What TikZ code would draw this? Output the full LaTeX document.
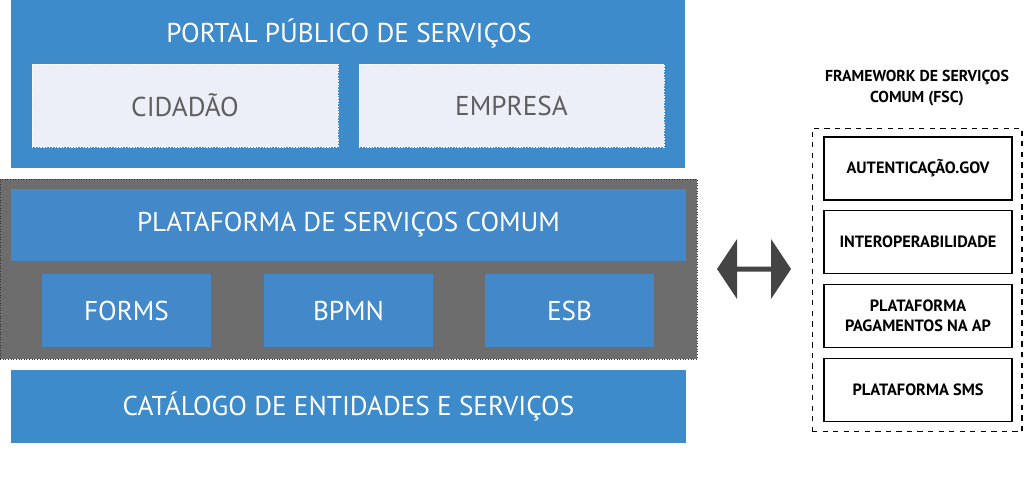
\documentclass[tikz,border=0pt]{standalone}
\usepackage{fontspec}
\setmainfont{PT Sans}
\usetikzlibrary{positioning}

\definecolor{portalblue}{HTML}{3D8BCB}
\definecolor{coreblue}{HTML}{4388C8}
\definecolor{coregray}{HTML}{6D6D6D}
\definecolor{paleface}{HTML}{ECEFF7}
\definecolor{palefont}{HTML}{5F5F5F}
\definecolor{arrowgray}{HTML}{444444}

\tikzset{
  bigfont/.style={font=\fontsize{15.5}{18}\selectfont},
  bluebar/.style={fill=portalblue, inner sep=0pt, text=white, bigfont},
  corebox/.style={fill=coreblue, inner sep=0pt, text=white, bigfont},
  palebox/.style={fill=paleface, draw=white, dash pattern=on 0.8pt off 0.8pt,
    line width=0.4pt, inner sep=0pt, text=palefont, bigfont},
  fscbox/.style={draw=black, line width=0.8pt, inner sep=0pt, align=center,
    minimum width=3.76cm, minimum height=1.26cm,
    font=\fontsize{9.3}{11.5}\selectfont\bfseries},
}

\begin{document}
\begin{tikzpicture}[x=0.02cm,y=-0.02cm]
  \useasboundingbox (0,0) rectangle (1024,503);

  % portal
  \node[bluebar, minimum width=13.48cm, minimum height=3.36cm] (portal) at (348,84) {};
  \node[text=white, bigfont] (portal title) at (349,33) {PORTAL PÚBLICO DE SERVIÇOS};
  \node[palebox, minimum width=6.12cm, minimum height=1.66cm] (cidadao) at (185,105.5) {CIDADÃO};
  \node[palebox, minimum width=6.10cm, minimum height=1.66cm] (empresa) at (511.5,105.5) {EMPRESA};

  % plataforma comum
  \node[fill=coregray, draw=black!80, densely dotted, line width=0.5pt,
    minimum width=13.94cm, minimum height=3.6cm] (core) at (348.5,269) {};
  \node[corebox, minimum width=13.5cm, minimum height=1.46cm] (plataforma) at (348.5,225) {PLATAFORMA DE SERVIÇOS COMUM};
  \node[corebox, minimum width=3.38cm, minimum height=1.46cm] (forms) at (126.5,310.5) {FORMS};
  \node[corebox, minimum width=3.38cm, minimum height=1.46cm] (bpmn) at (348.5,310.5) {BPMN};
  \node[corebox, minimum width=3.38cm, minimum height=1.46cm] (esb) at (569.5,310.5) {ESB};

  % catalogo
  \node[bluebar, minimum width=13.5cm, minimum height=1.46cm] (catalogo) at (348.5,406.5) {CATÁLOGO DE ENTIDADES E SERVIÇOS};

  % double arrow
  \fill[arrowgray] (717,269) -- (737,239) -- (737,266.5) -- (771,266.5) -- (771,239)
    -- (791,269) -- (771,299) -- (771,271.5) -- (737,271.5) -- (737,299) -- cycle;

  % framework
  \node[align=center, font=\fontsize{9}{11.5}\selectfont\bfseries] (fsc title) at (917,88)
    {FRAMEWORK DE SERVIÇOS\\COMUM (FSC)};
  \node[draw=black, dashed, line width=0.6pt, minimum width=4.2cm, minimum height=6.08cm] (fsc) at (917,280) {};
  \node[fscbox] (autenticacao) at (918,168.5) {AUTENTICAÇÃO.GOV};
  \node[fscbox] (interop) at (918,242) {INTEROPERABILIDADE};
  \node[fscbox] (pagamentos) at (918,316) {PLATAFORMA\\PAGAMENTOS NA AP};
  \node[fscbox] (sms) at (918,390) {PLATAFORMA SMS};
\end{tikzpicture}
\end{document}
